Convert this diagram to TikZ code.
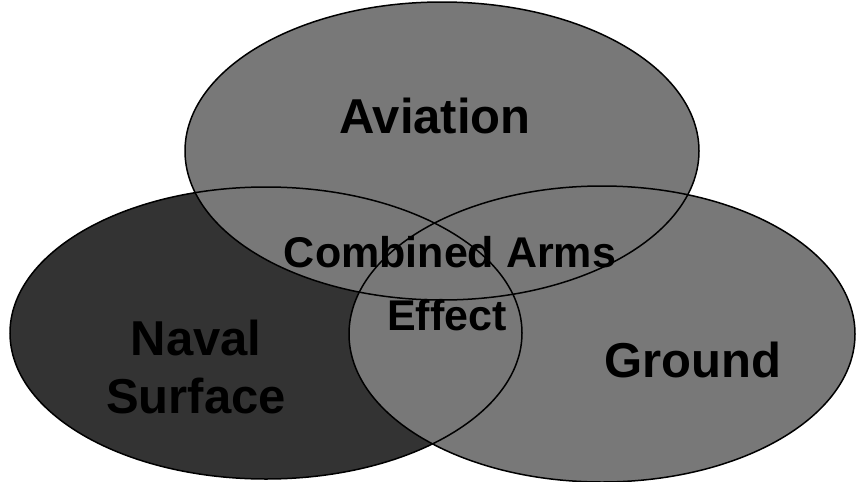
\documentclass[tikz,border=0pt]{standalone}
\usepackage{fontspec}
\setmainfont{Liberation Sans}
\definecolor{airgray}{gray}{0.47}
\definecolor{groundgray}{gray}{0.47}
\definecolor{navalgray}{gray}{0.2}
\tikzstyle{outline} = [draw=black, line width=1.5pt]
\tikzstyle{bigtext} = [font=\fontsize{49}{58}\selectfont\bfseries, align=center, inner sep=0pt]
\tikzstyle{midtext} = [font=\fontsize{43}{50}\selectfont\bfseries, inner sep=0pt]

\begin{document}
\begin{tikzpicture}[x=1pt, y=-1pt]
        \useasboundingbox (0,0) rectangle (857,482);
        
        % centres of the three areas
        \coordinate (navalc) at (266,333);
        \coordinate (groundc) at (602,334);
        \coordinate (airc) at (442,151);
        
        \fill[navalgray] (navalc) ellipse [x radius=256, y radius=146];
        \fill[groundgray] (groundc) ellipse [x radius=253, y radius=148];
        \fill[airgray] (airc) ellipse [x radius=257, y radius=149];
        
        \path[outline] (navalc) ellipse [x radius=256, y radius=146];
        \path[outline] (groundc) ellipse [x radius=253, y radius=148];
        \path[outline] (airc) ellipse [x radius=257, y radius=149];
        
        \node (aviation) [bigtext, anchor=base] at (435,133) {Aviation};
        \node (combined) [midtext, anchor=base] at (450,267) {Combined Arms};
        \node (effect) [midtext, anchor=base] at (447,330) {Effect};
        \node (naval) [bigtext] at (196,367) {Naval\\Surface};
        \node (ground) [bigtext, anchor=base] at (693,377) {Ground};
        
    \end{tikzpicture}
\end{document}
